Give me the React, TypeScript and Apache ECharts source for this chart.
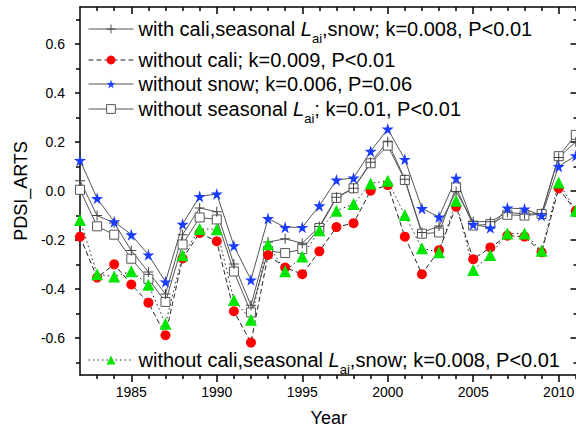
import React, { useEffect, useRef } from "react";
import * as echarts from "echarts";

const years = [1982, 1983, 1984, 1985, 1986, 1987, 1988, 1989, 1990, 1991, 1992, 1993, 1994, 1995, 1996, 1997, 1998, 1999, 2000, 2001, 2002, 2003, 2004, 2005, 2006, 2007, 2008, 2009, 2010, 2011];

const withAll = [0.042, -0.1, -0.13, -0.243, -0.33, -0.42, -0.178, -0.069, -0.085, -0.298, -0.466, -0.208, -0.195, -0.213, -0.145, -0.025, 0.011, 0.117, 0.201, 0.048, -0.169, -0.143, -0.002, -0.125, -0.125, -0.087, -0.094, -0.092, 0.137, 0.2];
const withoutCali = [-0.186, -0.353, -0.299, -0.381, -0.455, -0.588, -0.275, -0.171, -0.205, -0.49, -0.618, -0.261, -0.312, -0.339, -0.246, -0.147, -0.131, 0.001, 0.024, -0.186, -0.339, -0.241, -0.064, -0.278, -0.23, -0.182, -0.186, -0.25, 0.011, -0.082];
const withoutSnow = [0.125, -0.03, -0.125, -0.178, -0.26, -0.37, -0.135, -0.022, -0.012, -0.223, -0.362, -0.112, -0.148, -0.148, -0.06, 0.045, 0.053, 0.162, 0.253, 0.129, -0.071, -0.106, 0.052, -0.136, -0.15, -0.069, -0.073, -0.1, 0.1, 0.144];
const withoutSeasonal = [0.005, -0.144, -0.178, -0.276, -0.358, -0.452, -0.218, -0.108, -0.116, -0.328, -0.495, -0.244, -0.253, -0.237, -0.151, -0.028, 0.011, 0.113, 0.185, 0.045, -0.174, -0.169, 0.015, -0.141, -0.135, -0.097, -0.1, -0.094, 0.142, 0.229];
const withoutAll = [-0.118, -0.339, -0.349, -0.327, -0.382, -0.541, -0.262, -0.155, -0.156, -0.444, -0.525, -0.217, -0.327, -0.267, -0.16, -0.08, -0.053, 0.031, 0.042, -0.098, -0.233, -0.25, -0.04, -0.322, -0.261, -0.173, -0.173, -0.244, 0.035, -0.08];

const xMajorTicks = [1985, 1990, 1995, 2000, 2005, 2010];
const xMinorTicks = [1983, 1984, 1986, 1987, 1988, 1989, 1991, 1992, 1993, 1994, 1996, 1997, 1998, 1999, 2001, 2002, 2003, 2004, 2006, 2007, 2008, 2009, 2011];
const yMajorTicks = [-0.6, -0.4, -0.2, 0, 0.2, 0.4, 0.6];
const yMinorTicks = [-0.7, -0.5, -0.3, -0.1, 0.1, 0.3, 0.5, 0.7];

const seriesNames = [
  "with cali,seasonal {i|L}{s|ai},snow; k=0.008, P<0.01",
  "without cali; k=0.009, P<0.01",
  "without snow; k=0.006, P=0.06",
  "without seasonal {i|L}{s|ai}; k=0.01, P<0.01",
  "without cali,seasonal {i|L}{s|ai},snow; k=0.008, P<0.01",
];

const FONT = "Liberation Sans, Arial, Helvetica, sans-serif";
const PLUS = "path://M4.5,0 h1 v4.5 h4.5 v1 h-4.5 v4.5 h-1 v-4.5 h-4.5 v-1 h4.5 z";
const STAR = "path://M50,0 L61,35 L98,35 L68,57 L79,91 L50,70 L21,91 L32,57 L2,35 L39,35 Z";
const SQUARE = "path://M0,0 L10,0 L10,10 L0,10 Z";

export default function App() {
  const ref = useRef<HTMLDivElement>(null);
  useEffect(() => {
    if (!ref.current) return;
    const chart = echarts.init(ref.current, null, { renderer: "svg" });
    const pair = (arr: number[]) => years.map((y, i) => [y, arr[i]]);
    const xMin = 1982;
    const xMax = 2011.1;
    const axisLineStyle = { color: "#000", width: 1.5 };
    const tickStyle = { color: "#000", width: 1.5 };
    const baseX = {
      type: "value",
      min: xMin,
      max: xMax,
      splitLine: { show: false },
    };
    const baseY = {
      type: "value",
      min: -0.75,
      max: 0.75,
      splitLine: { show: false },
    };
    const rich = {
      i: { fontStyle: "italic", fontSize: 20, fontFamily: FONT, color: "#000", lineHeight: 22 },
      s: { fontSize: 13, fontFamily: FONT, color: "#000", lineHeight: 13, padding: [18, 0, 0, 0] },
    };
    const legendCommon = {
      orient: "vertical",
      left: 88,
      padding: 0,
      itemWidth: 45,
      itemHeight: 11,
      itemGap: 0,
      lineStyle: { width: 1 },
      textStyle: { fontSize: 20, fontFamily: FONT, color: "#000", lineHeight: 22, rich },
    };
    const option: any = {
      animation: false,
      grid: { left: 80, top: 7, width: 497.5, height: 368, outerBoundsMode: "none" },
      legend: [
        { ...legendCommon, top: 13.5, data: [seriesNames[0]] },
        { ...legendCommon, top: 49, data: [seriesNames[1]] },
        { ...legendCommon, top: 73, data: [seriesNames[2]] },
        { ...legendCommon, top: 93.5, itemStyle: { borderWidth: 1 }, data: [seriesNames[3]] },
        { ...legendCommon, top: 344.5, data: [seriesNames[4]] },
      ],
      xAxis: [
        {
          ...baseX,
          position: "bottom",
          name: "Year",
          nameLocation: "middle",
          nameGap: 34,
          nameTextStyle: { fontSize: 18, fontFamily: FONT, color: "#000" },
          axisLine: { onZero: false, lineStyle: axisLineStyle },
          axisTick: { show: true, inside: false, length: 7, lineStyle: tickStyle, customValues: xMajorTicks },
          axisLabel: {
            show: true,
            margin: 10,
            fontSize: 14,
            fontFamily: FONT,
            color: "#000",
            customValues: xMajorTicks,
            formatter: (v: number) => String(Math.round(v)),
          },
        },
        {
          ...baseX,
          position: "bottom",
          axisLine: { show: false, onZero: false },
          axisTick: { show: true, inside: false, length: 4, lineStyle: tickStyle, customValues: xMinorTicks },
          axisLabel: { show: false },
        },
        {
          ...baseX,
          position: "top",
          axisLine: { onZero: false, lineStyle: axisLineStyle },
          axisTick: { show: true, inside: true, length: 7, lineStyle: tickStyle, customValues: xMajorTicks },
          axisLabel: { show: false },
        },
        {
          ...baseX,
          position: "top",
          axisLine: { show: false, onZero: false },
          axisTick: { show: true, inside: true, length: 4, lineStyle: tickStyle, customValues: xMinorTicks },
          axisLabel: { show: false },
        },
      ],
      yAxis: [
        {
          ...baseY,
          position: "left",
          name: "PDSI_ARTS",
          nameLocation: "middle",
          nameGap: 49,
          nameTextStyle: { fontSize: 18, fontFamily: FONT, color: "#000" },
          axisLine: { onZero: false, lineStyle: axisLineStyle },
          axisTick: { show: true, inside: false, length: 5, lineStyle: tickStyle, customValues: yMajorTicks },
          axisLabel: {
            show: true,
            margin: 15,
            fontSize: 14,
            fontFamily: FONT,
            color: "#000",
            customValues: yMajorTicks,
            formatter: (v: number) => v.toFixed(1),
          },
        },
        {
          ...baseY,
          position: "left",
          axisLine: { show: false, onZero: false },
          axisTick: { show: true, inside: false, length: 4, lineStyle: tickStyle, customValues: yMinorTicks },
          axisLabel: { show: false },
        },
        {
          ...baseY,
          position: "right",
          axisLine: { onZero: false, lineStyle: axisLineStyle },
          axisTick: { show: true, inside: true, length: 7, lineStyle: tickStyle, customValues: yMajorTicks },
          axisLabel: { show: false },
        },
        {
          ...baseY,
          position: "right",
          axisLine: { show: false, onZero: false },
          axisTick: { show: true, inside: true, length: 4, lineStyle: tickStyle, customValues: yMinorTicks },
          axisLabel: { show: false },
        },
      ],
      series: [
        {
          name: seriesNames[3],
          type: "line",
          data: pair(withoutSeasonal),
          symbol: SQUARE,
          symbolSize: 9,
          lineStyle: { color: "#555", width: 1, type: "solid" },
          itemStyle: { color: "#fff", borderColor: "#555", borderWidth: 1 },
        },
        {
          name: seriesNames[0],
          type: "line",
          data: pair(withAll),
          symbol: PLUS,
          symbolSize: 10,
          lineStyle: { color: "#555", width: 1, type: "solid" },
          itemStyle: { color: "#444" },
        },
        {
          name: seriesNames[2],
          type: "line",
          data: pair(withoutSnow),
          symbol: STAR,
          symbolSize: 12,
          lineStyle: { color: "#555", width: 1, type: "solid" },
          itemStyle: { color: "#1a3cff" },
        },
        {
          name: seriesNames[1],
          type: "line",
          data: pair(withoutCali),
          symbol: "circle",
          symbolSize: 10,
          lineStyle: { color: "#222", width: 1, type: [5, 3] },
          itemStyle: { color: "#ff0000" },
        },
        {
          name: seriesNames[4],
          type: "line",
          data: pair(withoutAll),
          symbol: "triangle",
          symbolSize: 12,
          lineStyle: { color: "#222", width: 1, type: [1.5, 3] },
          itemStyle: { color: "#00e600" },
        },
      ],
    };
    chart.setOption(option);
    return () => chart.dispose();
  }, []);
  return (
    <div
      ref={ref}
      style={{ position: "fixed", left: 0, top: 0, width: 576, height: 427, background: "#fff" }}
    />
  );
}
